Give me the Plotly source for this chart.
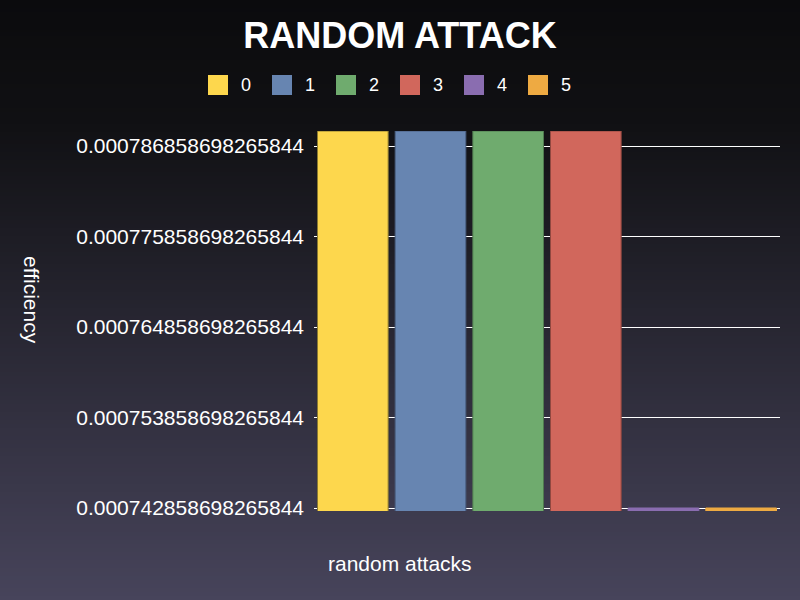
import plotly.graph_objects as go

# ---- data ----
categories = ["0", "1", "2", "3", "4", "5"]
x_label = ["random attacks"]
efficiency = [0.0007886869, 0.0007886869, 0.0007886869, 0.0007886869,
              0.000742858698265844, 0.000742858698265844]
tick_values = [0.000742858698265844, 0.000753858698265844, 0.000764858698265844,
               0.000775858698265844, 0.000786858698265844]
tick_labels = ["0.000742858698265844", "0.000753858698265844", "0.000764858698265844",
               "0.000775858698265844", "0.000786858698265844"]
colors = ["#fdd74d", "#6785b1", "#6fab6e", "#d1675c", "#8a6db0", "#eeaa42"]
edge_colors = ["#8a7a30", "#4a5f80", "#4f7a4f", "#904840", "#8a6db0", "#eeaa42"]

W, H = 800, 600
L, R, T, B = 314, 20, 131, 89
PW, PH = W - L - R, H - T - B
FONT = "Liberation Sans, Arial, sans-serif"

def px_x(px):
    return (px - L) / PW

def px_y(py):
    return (H - B - py) / PH

fig = go.Figure()
for i, c in enumerate(categories):
    fig.add_trace(go.Bar(
        x=x_label, y=[efficiency[i]], name=c,
        marker=dict(color=colors[i], line=dict(color=edge_colors[i], width=1)),
        showlegend=False,
    ))

# axis range: a touch below the minimum so the minimum bars remain visible
ymin = tick_values[0]
ymax = max(efficiency)
pad = (ymax - ymin) / (PH - 3) * 3

shapes = []
# background gradient
def lerp(a, b, t):
    return a + (b - a) * t
stops = [(0.0, (11, 11, 13)), (0.2, (16, 16, 19)), (1.0, (71, 68, 91))]
N = 150
for k in range(N):
    t = (k + 0.5) / N
    for j in range(len(stops) - 1):
        if stops[j][0] <= t <= stops[j + 1][0]:
            f = (t - stops[j][0]) / (stops[j + 1][0] - stops[j][0])
            col = tuple(int(round(lerp(stops[j][1][m], stops[j + 1][1][m], f))) for m in range(3))
            break
    y0p = k * H / N
    y1p = (k + 1) * H / N + 1
    shapes.append(dict(type="rect", xref="paper", yref="paper", layer="below",
                       x0=px_x(-5), x1=px_x(W + 5), y0=px_y(y1p), y1=px_y(y0p),
                       fillcolor="rgb(%d,%d,%d)" % col, line=dict(width=0)))

# custom legend
annotations = []
for i, c in enumerate(categories):
    x0 = 208 + 64 * i
    shapes.append(dict(type="rect", xref="paper", yref="paper",
                       x0=px_x(x0), x1=px_x(x0 + 20), y0=px_y(95), y1=px_y(75),
                       fillcolor=colors[i], line=dict(width=0)))
    annotations.append(dict(xref="paper", yref="paper", x=px_x(x0 + 38), y=px_y(85),
                            text=c, showarrow=False, xanchor="center", yanchor="middle",
                            font=dict(size=18, color="white", family=FONT)))

annotations.append(dict(xref="paper", yref="paper", x=px_x(400), y=px_y(563),
                        text="random attacks", showarrow=False, xanchor="center",
                        yanchor="middle", font=dict(size=21, color="white", family=FONT)))
annotations.append(dict(xref="paper", yref="paper", x=px_x(32), y=px_y(300),
                        text="efficiency", showarrow=False, textangle=90,
                        xanchor="center", yanchor="middle",
                        font=dict(size=21, color="white", family=FONT)))

fig.update_layout(
    width=W, height=H,
    margin=dict(l=L, r=R, t=T, b=B),
    paper_bgcolor="#0b0b0d",
    plot_bgcolor="rgba(0,0,0,0)",
    barmode="group", bargap=0.0, bargroupgap=0.09,
    title=dict(text="<b>RANDOM ATTACK</b>", x=0.5, xanchor="center",
               y=1 - 35 / H, yanchor="middle",
               font=dict(size=36, color="white", family=FONT)),
    xaxis=dict(showticklabels=False, showgrid=False, zeroline=False, showline=False),
    yaxis=dict(range=[ymin - pad, ymax], tickvals=tick_values, ticktext=tick_labels,
               showgrid=True, gridcolor="white", gridwidth=1, zeroline=False,
               showline=False, ticks="", ticklabelstandoff=9,
               tickfont=dict(size=21, color="white", family=FONT)),
    shapes=shapes, annotations=annotations,
    showlegend=False,
)

fig.write_html("out.html", config={"displayModeBar": False},
               post_script="document.body.style.margin='0';")
